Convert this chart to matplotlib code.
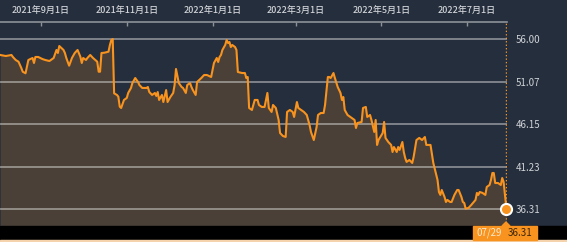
import matplotlib
matplotlib.use("Agg")
import matplotlib.pyplot as plt
import matplotlib.patches as mpatches
import numpy as np
import pandas as pd

plt.rcParams['font.family'] = ['Noto Sans CJK JP', 'DejaVu Sans']

# days since 2021-08-02 and closing price
start = pd.Timestamp("2021-08-02")
days = [1, 5, 9, 10, 12, 14, 16, 17, 19, 20, 21, 24, 25, 26, 28, 31, 33, 36, 39, 41,
        42, 43, 46, 47, 48, 50, 52, 54, 56, 58, 59, 60, 62, 63, 65, 67, 70, 71, 72, 73,
        75, 78, 79, 80, 81, 82, 84, 85, 86, 87, 89, 91, 92, 94, 95, 97, 99, 100, 102, 105,
        106, 107, 109, 111, 112, 113, 114, 116, 117, 119, 120, 122, 124, 125, 126, 128, 130, 131, 133, 134,
        136, 137, 138, 140, 141, 144, 146, 148, 151, 152, 153, 155, 156, 157, 158, 159, 161, 162, 163, 164,
        165, 166, 168, 169, 170, 173, 175, 176, 177, 178, 180, 181, 182, 184, 185, 187, 189, 191, 192, 194,
        195, 197, 199, 200, 202, 204, 205, 207, 209, 210, 212, 213, 215, 217, 219, 221, 222, 224, 226, 227,
        229, 231, 232, 234, 235, 236, 238, 239, 241, 243, 244, 245, 246, 248, 251, 253, 254, 255, 258, 259,
        261, 262, 264, 265, 267, 268, 269, 270, 273, 274, 275, 277, 279, 280, 281, 283, 284, 285, 287, 288,
        289, 290, 292, 294, 295, 297, 299, 301, 303, 304, 307, 309, 312, 313, 314, 315, 317, 318, 319, 321,
        322, 324, 326, 327, 329, 330, 331, 332, 334, 336, 339, 340, 341, 342, 344, 346, 347, 349, 350, 351,
        352, 353, 355, 357, 358, 359, 361]
price = [54.15, 54.03, 54.15, 53.92, 53.57, 53.37, 52.64, 52.21, 52.03, 52.79, 53.57, 53.80, 53.22, 53.92, 53.92, 53.68, 53.57, 53.45, 53.80, 54.73,
         54.38, 55.19, 54.73, 54.38, 53.80, 52.91, 53.80, 54.38, 54.73, 53.95, 53.22, 53.80, 53.57, 53.80, 54.15, 53.80, 53.37, 52.21, 52.21, 54.38,
         54.41, 54.53, 55.31, 55.88, 56.00, 49.71, 49.52, 49.32, 48.16, 48.01, 48.94, 49.17, 49.75, 50.33, 50.90, 51.48, 51.02, 50.67, 50.33, 50.33,
         50.44, 49.86, 49.52, 49.75, 49.40, 49.86, 48.94, 49.52, 48.70, 50.09, 48.70, 49.28, 49.75, 50.67, 52.53, 50.90, 50.44, 50.33, 49.75, 50.67,
         50.90, 50.44, 50.09, 49.52, 51.02, 51.48, 51.83, 51.83, 51.60, 52.41, 53.22, 53.80, 53.34, 53.92, 54.15, 54.73, 55.31, 55.88, 55.54, 55.65,
         55.07, 55.31, 55.07, 54.73, 52.18, 52.06, 52.06, 51.48, 51.60, 48.01, 47.78, 48.36, 48.94, 48.94, 48.36, 48.13, 48.13, 49.75, 48.01, 47.55,
         48.36, 48.01, 46.62, 45.11, 44.77, 44.65, 47.55, 47.78, 47.55, 46.97, 48.70, 48.01, 47.78, 47.55, 47.20, 46.04, 45.23, 44.30, 45.81, 47.20,
         47.43, 47.43, 48.36, 51.60, 51.60, 51.48, 52.06, 51.48, 50.44, 49.75, 48.94, 49.28, 47.78, 47.20, 46.85, 46.62, 45.69, 46.27, 46.39, 48.01,
         48.13, 46.97, 47.20, 46.62, 45.23, 46.62, 43.73, 44.30, 45.11, 46.39, 44.54, 44.07, 43.73, 42.91, 43.49, 42.91, 43.49, 43.15, 44.07, 42.91,
         42.22, 41.76, 41.99, 41.64, 42.34, 44.30, 44.54, 44.30, 44.65, 43.73, 43.73, 41.64, 39.67, 38.28, 37.94, 38.51, 37.70, 37.12, 37.36, 37.12,
         37.12, 37.94, 38.51, 38.51, 37.70, 37.12, 37.01, 36.35, 36.43, 36.78, 37.36, 38.17, 37.94, 38.28, 38.17, 37.94, 38.86, 39.09, 39.67, 40.48,
         40.48, 39.32, 39.32, 39.09, 39.90, 39.44, 36.31]

y_ticks = [56.00, 51.07, 46.15, 41.23, 36.31]
x_tick_dates = ["2021-09-01", "2021-11-01", "2022-01-01", "2022-03-01", "2022-05-01", "2022-07-01"]
x_tick_labels = ["2021年9月1日", "2021年11月1日", "2022年1月1日", "2022年3月1日", "2022年5月1日", "2022年7月1日"]
last_label = "07/29"

navy = "#252e3c"
brown = "#4a4038"
orange = "#f7931e"
text_col = "#d0d3d8"

dates = start + pd.to_timedelta(days, unit="D")
W, H = 567, 242
fig = plt.figure(figsize=(W / 100, H / 100), dpi=100, facecolor=navy)

ax = fig.add_axes([0, 16 / H, 507 / W, 204 / H])
ax.set_facecolor(navy)
ybot, ytop = 34.34, 57.97
ax.set_ylim(ybot, ytop)
ax.set_xlim(start + pd.Timedelta(days=0.84), start + pd.Timedelta(days=361.4))

ax.fill_between(dates, price, ybot, color=brown, lw=0, zorder=1)
for v in y_ticks:
    ax.axhline(v, color="white", alpha=0.4, lw=1.4, zorder=2)
ax.plot(dates, price, color=orange, lw=1.5, zorder=3)

ax.axvline(dates[-1], color=orange, lw=1, ls=(0, (1, 1.5)), zorder=4)
ax.plot(dates[-1], price[-1], "o", ms=8, mfc=orange, mec="white", mew=1.5,
        zorder=5, clip_on=False)

for s in ["left", "right", "bottom"]:
    ax.spines[s].set_visible(False)
ax.spines["top"].set_color("#8d9298")
ax.spines["top"].set_linewidth(1.2)

ax.xaxis.tick_top()
ax.set_xticks(pd.to_datetime(x_tick_dates))
ax.set_xticklabels(x_tick_labels, fontweight="medium")
ax.tick_params(axis="x", direction="in", length=3, width=1, color="#8d9298",
               labelsize=6.5, labelcolor=text_col, pad=4)

ax.yaxis.tick_right()
ax.set_yticks(y_ticks)
ax.set_yticklabels([f"{v:.2f}" for v in y_ticks])
ax.tick_params(axis="y", length=0, labelsize=7, labelcolor=text_col, pad=6)

# bottom band and last value box
fig.patches.append(mpatches.Rectangle((0, 2 / H), 1, 14 / H, transform=fig.transFigure,
                                      color="black", zorder=0))
fig.patches.append(mpatches.Rectangle((0, 0), 1, 2 / H, transform=fig.transFigure,
                                      color="#f5d3ad", zorder=0))
fig.patches.append(mpatches.Rectangle((473 / W, 2 / H), 64 / W, 14 / H,
                                      transform=fig.transFigure, color=orange, zorder=1))
fig.patches.append(mpatches.Polygon([(502 / W, 16 / H), (510 / W, 16 / H), (506 / W, 20 / H)],
                                    closed=True, transform=fig.transFigure, color=orange, zorder=1))
fig.text(489 / W, 9 / H, last_label, color="#fde8cc", fontsize=7, ha="center", va="center")
fig.text(520 / W, 9 / H, f"{price[-1]:.2f}", color="#3b2410", fontsize=7, ha="center", va="center")

fig.savefig("out.png", dpi=100, facecolor=navy)
